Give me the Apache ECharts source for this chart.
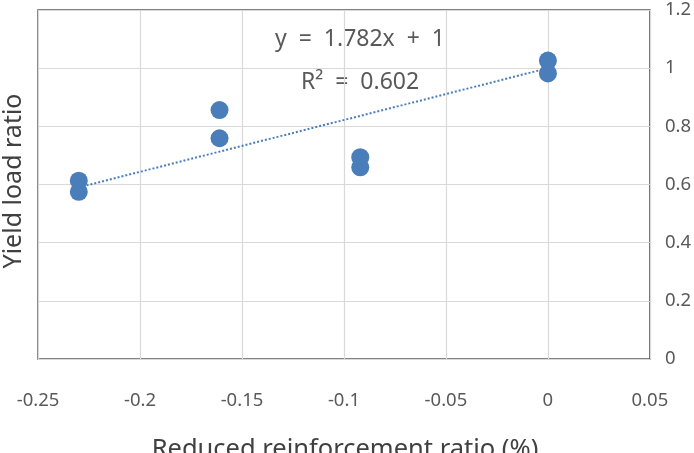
<!DOCTYPE html>
<html>
<head>
<meta charset="utf-8">
<script src="https://cdn.jsdelivr.net/npm/echarts@6/dist/echarts.min.js"></script>
<style>
  html, body { margin: 0; padding: 0; background: #fff; overflow: hidden; }
  #chart { width: 694px; height: 453px; }
</style>
</head>
<body>
<div id="chart"></div>
<script>
  // measured points (x: reduced reinforcement ratio, y: yield load ratio)
  const xValues = [-0.23, -0.23, -0.161, -0.161, -0.092, -0.092, 0, 0];
  const yValues = [0.613, 0.575, 0.856, 0.759, 0.694, 0.659, 1.026, 0.982];
  // linear trend as printed on the chart
  const slope = 1.782;
  const intercept = 1;
  const trendRange = [-0.23, 0];
  const equationText = 'y  =  1.782x  +  1';
  const r2Text = 'R²  =  0.602';

  const fontFamily = '"Noto Sans", "Noto Sans CJK KR", sans-serif';
  const textColor = '#595959';
  const nameColor = '#404040';
  const blue = '#4a7ebb';

  let points = xValues.map(function (x, i) { return [x, yValues[i]]; });
  let trend = trendRange.map(function (x) { return [x, slope * x + intercept]; });

  let myChart = echarts.init(document.getElementById('chart'));
  myChart.setOption({
    animation: false,
    grid: {
      left: 38,
      right: 40,
      top: 10,
      bottom: 94,
      show: true,
      borderColor: '#595959',
      borderWidth: 1.5
    },
    xAxis: {
      type: 'value',
      min: -0.25,
      max: 0.05,
      interval: 0.05,
      axisLine: { show: false },
      axisTick: { show: false },
      axisLabel: {
        color: textColor,
        fontSize: 18.5,
        fontFamily: fontFamily,
        margin: 32,
        formatter: function (v) { return String(Math.round(v * 100) / 100); }
      },
      splitLine: {
        lineStyle: { color: '#d9d9d9', width: 1.2 }
      }
    },
    yAxis: {
      type: 'value',
      position: 'right',
      min: 0,
      max: 1.2,
      interval: 0.2,
      axisLine: { show: false },
      axisTick: { show: false },
      axisLabel: {
        color: textColor,
        fontSize: 18.5,
        fontFamily: fontFamily,
        margin: 15,
        formatter: function (v) { return String(Math.round(v * 10) / 10); }
      },
      splitLine: {
        lineStyle: { color: '#d9d9d9', width: 1.2 }
      }
    },
    graphic: [
      {
        type: 'text',
        rotation: Math.PI / 2,
        x: 14,
        y: 181,
        style: {
          text: 'Yield load ratio',
          fill: nameColor,
          fontSize: 25,
          fontFamily: fontFamily,
          textAlign: 'center',
          textVerticalAlign: 'middle'
        }
      },
      {
        type: 'text',
        x: 345,
        y: 450,
        style: {
          text: 'Reduced reinforcement ratio (%)',
          fill: nameColor,
          fontSize: 25.5,
          fontFamily: fontFamily,
          textAlign: 'center',
          textVerticalAlign: 'middle'
        }
      },
      {
        type: 'text',
        x: 360,
        y: 39,
        style: {
          text: equationText,
          fill: textColor,
          fontSize: 23,
          fontFamily: fontFamily,
          textAlign: 'center',
          textVerticalAlign: 'middle'
        }
      },
      {
        type: 'text',
        x: 360,
        y: 82,
        style: {
          text: r2Text,
          fill: textColor,
          fontSize: 23,
          fontFamily: fontFamily,
          textAlign: 'center',
          textVerticalAlign: 'middle'
        }
      }
    ],
    series: [
      {
        type: 'line',
        data: trend,
        symbol: 'none',
        lineStyle: {
          color: blue,
          width: 2,
          type: [2, 2]
        },
        z: 2
      },
      {
        type: 'scatter',
        data: points,
        symbolSize: 18,
        itemStyle: { color: blue, opacity: 1 },
        z: 3
      }
    ]
  });
</script>
</body>
</html>
